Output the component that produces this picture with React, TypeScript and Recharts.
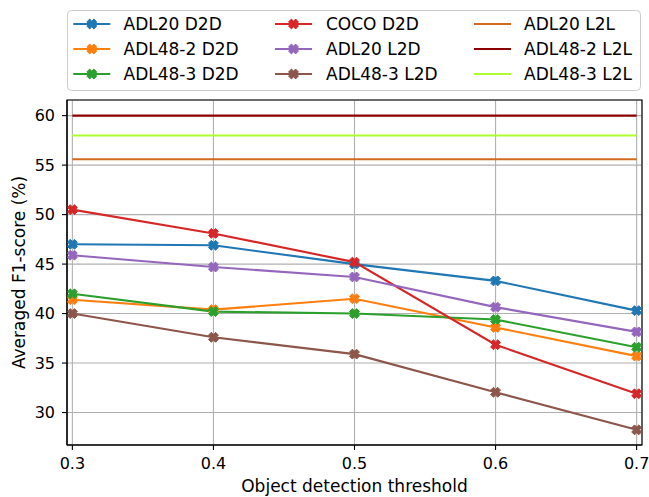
import React from "react";
import {
  LineChart,
  Line,
  XAxis,
  YAxis,
  CartesianGrid,
  ReferenceArea,
  Label,
} from "recharts";

// ---- data ----
const thresholds = [0.3, 0.4, 0.5, 0.6, 0.7];
const adl20D2D = [47.0, 46.9, 45.0, 43.3, 40.3];
const adl48_2D2D = [41.4, 40.4, 41.5, 38.6, 35.7];
const adl48_3D2D = [42.0, 40.2, 40.0, 39.4, 36.6];
const cocoD2D = [50.5, 48.1, 45.2, 36.85, 31.9];
const adl20L2D = [45.9, 44.7, 43.7, 40.65, 38.15];
const adl48_3L2D = [40.0, 37.6, 35.9, 32.05, 28.25];
const adl20L2L = 55.6;
const adl48_2L2L = 60.0;
const adl48_3L2L = 58.0;

const xTicks = [0.3, 0.4, 0.5, 0.6, 0.7];
const yTicks = [30, 35, 40, 45, 50, 55, 60];
const xDomain: [number, number] = [0.2962, 0.7038];
const yDomain: [number, number] = [26.72, 61.58];

type Series = { key: string; name: string; color: string; marker: boolean };

const series: Series[] = [
  { key: "adl20D2D", name: "ADL20 D2D", color: "#1f77b4", marker: true },
  { key: "adl48_2D2D", name: "ADL48-2 D2D", color: "#ff7f0e", marker: true },
  { key: "adl48_3D2D", name: "ADL48-3 D2D", color: "#2ca02c", marker: true },
  { key: "cocoD2D", name: "COCO D2D", color: "#d62728", marker: true },
  { key: "adl20L2D", name: "ADL20 L2D", color: "#9467bd", marker: true },
  { key: "adl48_3L2D", name: "ADL48-3 L2D", color: "#8c564b", marker: true },
  { key: "adl20L2L", name: "ADL20 L2L", color: "#d2691e", marker: false },
  { key: "adl48_2L2L", name: "ADL48-2 L2L", color: "#8b0000", marker: false },
  { key: "adl48_3L2L", name: "ADL48-3 L2L", color: "#adff2f", marker: false },
];

const rows = thresholds.map((x, i) => ({
  x,
  adl20D2D: adl20D2D[i],
  adl48_2D2D: adl48_2D2D[i],
  adl48_3D2D: adl48_3D2D[i],
  cocoD2D: cocoD2D[i],
  adl20L2D: adl20L2D[i],
  adl48_3L2D: adl48_3L2D[i],
  adl20L2L,
  adl48_2L2L,
  adl48_3L2L,
}));

const FONT = "'DejaVu Sans', sans-serif";

function xPath(cx: number, cy: number, r = 5, w = 2): string {
  const pts: [number, number][] = [
    [w, r], [w, w], [r, w], [r, -w], [w, -w], [w, -r],
    [-w, -r], [-w, -w], [-r, -w], [-r, w], [-w, w], [-w, r],
  ];
  const s = Math.SQRT1_2;
  return (
    pts
      .map(([a, b], i) => {
        const px = cx + (a - b) * s;
        const py = cy + (a + b) * s;
        return `${i === 0 ? "M" : "L"}${px.toFixed(2)},${py.toFixed(2)}`;
      })
      .join(" ") + " Z"
  );
}

const makeDot = (color: string) => (props: any) => {
  const { cx, cy, index } = props;
  if (cx == null || cy == null) return <g key={`d-${index}`} />;
  return (
    <path
      key={`d-${color}-${index}`}
      d={xPath(cx, cy)}
      fill={color}
      stroke={color}
      strokeWidth={1}
      strokeLinejoin="round"
    />
  );
};

const legendCols = [
  { lineX: 73.3, textX: 123.5 },
  { lineX: 275, textX: 326 },
  { lineX: 474, textX: 524 },
];
const legendRows = [24, 49, 74];

function LegendBox() {
  return (
    <svg
      width={649}
      height={100}
      style={{ position: "absolute", left: 0, top: 0, pointerEvents: "none" }}
    >
      <rect
        x={67.5}
        y={10.5}
        width={573}
        height={80}
        rx={4}
        ry={4}
        fill="#ffffff"
        fillOpacity={0.8}
        stroke="#cccccc"
        strokeWidth={1}
      />
      {series.map((s, i) => {
        const col = legendCols[Math.floor(i / 3)];
        const y = legendRows[i % 3];
        return (
          <g key={s.key}>
            <line
              x1={col.lineX}
              x2={col.lineX + 37}
              y1={y}
              y2={y}
              stroke={s.color}
              strokeWidth={2.1}
            />
            {s.marker && (
              <path
                d={xPath(col.lineX + 18.5, y)}
                fill={s.color}
                stroke={s.color}
                strokeWidth={1}
                strokeLinejoin="round"
              />
            )}
            <text
              x={col.textX}
              y={y + 6}
              fontSize={17}
              fontFamily={FONT}
              fill="#000"
            >
              {s.name}
            </text>
          </g>
        );
      })}
    </svg>
  );
}

export default function App() {
  return (
    <div
      style={{
        position: "absolute",
        left: 0,
        top: 0,
        width: 649,
        height: 497,
        background: "#fff",
        fontFamily: FONT,
      }}
    >
      <LineChart
        width={649}
        height={497}
        data={rows}
        margin={{ top: 100, right: 7, bottom: 0, left: 0 }}
      >
        <CartesianGrid stroke="#b0b0b0" strokeWidth={1.1} />
        <XAxis
          type="number"
          dataKey="x"
          domain={xDomain}
          ticks={xTicks}
          allowDataOverflow
          height={52}
          tickFormatter={(v: number) => v.toFixed(1)}
          tick={{ fill: "#000", fontSize: 16, fontFamily: FONT }}
          axisLine={{ stroke: "#000", strokeWidth: 1.1 }}
          tickLine={{ stroke: "#000", strokeWidth: 1.1 }}
          tickSize={5}
          tickMargin={8}
        >
          <Label
            content={(p: any) => {
              const vb = p.viewBox || {};
              return (
                <text
                  x={354.5}
                  y={492}
                  textAnchor="middle"
                  fontSize={17}
                  fontFamily={FONT}
                  fill="#000"
                >
                  Object detection threshold
                </text>
              );
            }}
          />
        </XAxis>
        <YAxis
          type="number"
          domain={yDomain}
          ticks={yTicks}
          allowDataOverflow
          width={67}
          tick={{ fill: "#000", fontSize: 16, fontFamily: FONT }}
          axisLine={{ stroke: "#000", strokeWidth: 1.1 }}
          tickLine={{ stroke: "#000", strokeWidth: 1.1 }}
          tickSize={5}
          tickMargin={7}
        >
          <Label
            content={(p: any) => {
              const vb = p.viewBox || {};
              const cy = (vb.y ?? 100) + (vb.height ?? 345) / 2;
              return (
                <text
                  x={25}
                  y={cy}
                  textAnchor="middle"
                  transform={`rotate(-90, 25, ${cy})`}
                  fontSize={17}
                  fontFamily={FONT}
                  fill="#000"
                >
                  Averaged F1-score (%)
                </text>
              );
            }}
          />
        </YAxis>
        {series.map((s) => (
          <Line
            key={s.key}
            type="linear"
            dataKey={s.key}
            name={s.name}
            stroke={s.color}
            strokeWidth={2.1}
            dot={s.marker ? makeDot(s.color) : false}
            activeDot={false}
            isAnimationActive={false}
          />
        ))}
        <ReferenceArea
          x1={xDomain[0]}
          x2={xDomain[1]}
          y1={yDomain[0]}
          y2={yDomain[1]}
          fill="none"
          fillOpacity={0}
          stroke="#000"
          strokeWidth={1.1}
          ifOverflow="visible"
        />
      </LineChart>
      <LegendBox />
    </div>
  );
}
